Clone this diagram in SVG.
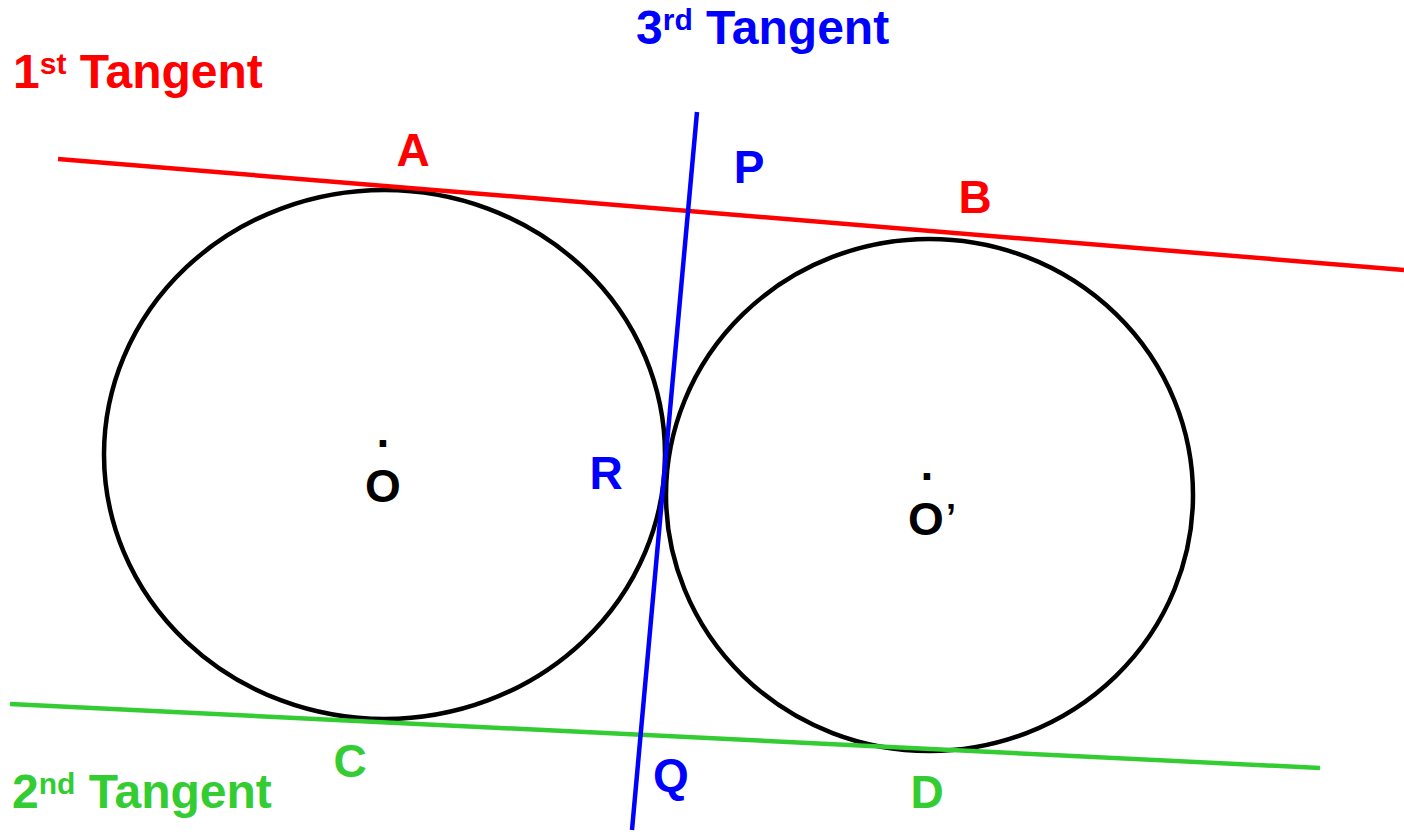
<svg xmlns="http://www.w3.org/2000/svg" width="1404" height="832" viewBox="0 0 1404 832">
<style>
.t{font-family:"Liberation Sans",Arial,sans-serif;font-weight:bold;}
.lab{font-size:46px;text-anchor:middle;}
.ttl{font-size:48px;}
.sup{font-size:30px;}
.red{fill:#FF0000;}
.blue{fill:#0000FF;}
.green{fill:#33CC33;}
.blk{fill:#000000;}
.circ{fill:none;stroke:#000;stroke-width:4.5;}
</style>
<rect width="1404" height="832" fill="#fff"/>
<g id="circle-O">
<ellipse class="circ" cx="384.5" cy="454.5" rx="280.5" ry="264.5"/>
<text class="t lab blk" x="383" y="447">.</text>
<text class="t lab blk" x="383" y="502">O</text>
</g>
<g id="circle-O2">
<ellipse class="circ" cx="929.5" cy="495" rx="263.5" ry="256"/>
<text class="t lab blk" x="927" y="480">.</text>
<text class="t lab blk" x="926" y="535">O</text>
<text class="t blk" x="946" y="530" font-size="36">’</text>
</g>
<g id="connectors">
<line x1="58" y1="159" x2="1404" y2="270" stroke="#FF0000" stroke-width="4.5"/>
<line x1="10" y1="704" x2="1320" y2="768" stroke="#33CC33" stroke-width="4.5"/>
<line x1="697" y1="112" x2="632" y2="830" stroke="#0000FF" stroke-width="4.5"/>
</g>
<g id="tangent1">
<text class="t ttl red" x="13" y="88">1<tspan class="sup" dy="-14">st</tspan><tspan dy="14"> Tangent</tspan></text>
</g>
<g id="tangent2">
<text class="t ttl green" x="12" y="808">2<tspan class="sup" dy="-14">nd</tspan><tspan dy="14"> Tangent</tspan></text>
</g>
<g id="tangent3">
<text class="t ttl blue" x="636" y="44">3<tspan class="sup" dy="-14">rd</tspan><tspan dy="14"> Tangent</tspan></text>
</g>
<g id="point-A"><text class="t lab red" x="413" y="166">A</text></g>
<g id="point-B"><text class="t lab red" x="975" y="213">B</text></g>
<g id="point-P"><text class="t lab blue" x="749" y="183">P</text></g>
<g id="point-R"><text class="t lab blue" x="606" y="489">R</text></g>
<g id="point-Q"><text class="t lab blue" x="671" y="791">Q</text></g>
<g id="point-C"><text class="t lab green" x="350" y="777">C</text></g>
<g id="point-D"><text class="t lab green" x="927" y="808">D</text></g>
</svg>
